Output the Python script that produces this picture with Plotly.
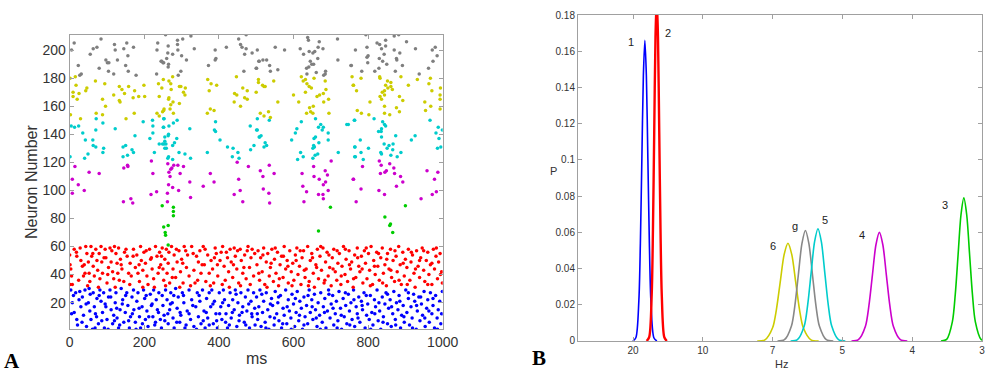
import plotly.graph_objects as go

# ---------------- Panel A data: raster (time ms, neuron number) ----------------
blue_spikes = [
(3,29),(7,20),(12,13),(16,27),(19,8),(25,22),(30,17),(34,24),(37,11),(41,29),(45,3),(50,20),(52,30),(54,14),(57,8),(63,27),(66,17),(68,2),(72,10),(73,23),(77,5),(81,29),(84,21),(88,13),(91,27),(93,2),(97,17),(100,8),(104,24),(108,29),(111,15),(115,5),(118,11),(122,20),(124,27),(127,9),(131,2),(135,15),(138,30),(142,22),(145,6),(149,13),(153,27),(156,18),(160,2),(163,10),(167,24),(171,29),(172,15),(176,6),(180,21),(183,27),(187,10),(190,2),(194,17),(198,29),(201,23),(203,8),(207,14),(210,3),(216,26),(219,18),(223,10),(225,29),(228,4),(232,22),(235,15),(239,27),(243,8),(246,2),(250,18),(253,11),(257,29),(261,22),(264,5),(268,15),(271,27),(275,20),(277,9),(280,2),(284,30),(288,16),(291,24),(295,6),(298,11),(302,27),(306,20),(309,2),(315,14),(320,29),(324,8),(327,22),(333,3),(338,17),(342,27),(345,10),(349,21),(352,5),(356,29),(360,14),(363,2),(367,23),(370,9),(374,27),(378,17),(381,29),(385,5),(388,21),(392,12),(396,2),(401,27),(405,17),(408,8),(412,29),(415,22),(419,12),(423,2),(426,18),(430,27),(433,9),(437,22),(441,15),(444,29),(448,3),(451,20),(455,11),(459,27),(464,17),(468,6),(471,24),(475,14),(478,29),(482,2),(486,21),(489,10),(493,27),(496,16),
(5,12),(10,25),(21,4),(27,28),(33,6),(44,19),(55,26),(61,1),(69,12),(79,25),(86,7),(95,19),(103,1),(110,24),(120,7),(126,16),(134,4),(141,19),(150,25),(158,7),(168,12),(178,1),(186,16),(195,5),(205,25),(212,10),(221,19),(230,6),(238,13),(248,25),(255,7),(263,12),(270,19),(279,25),(287,6),(296,13),(305,25),(312,4),(320,12),(330,18),(340,1),(347,25),(358,7),(366,13),(374,4),(384,19),(394,7),(402,12),(410,20),(418,6),(428,4),(436,13),(446,26),(454,7),(462,13),(472,4),(480,19),(488,12),(497,4),
(501,24),(504,8),(507,17),(510,29),(513,3),(517,13),(520,21),(524,6),(527,27),(531,15),(534,1),(537,10),(541,23),(544,18),(548,4),(551,28),(555,12),(558,20),(561,7),(565,25),(568,2),(572,16),(575,11),(579,29),(582,5),(586,22),(589,14),(593,9),(596,26),(600,19),(603,3),(607,13),(610,28),(614,7),(617,21),(621,16),(624,1),(628,24),(631,10),(635,18),(638,5),(642,29),(645,13),(649,22),(652,8),(656,26),(659,15),(663,3),(666,20),(670,11),(673,27),(677,6),(680,17),(684,23),(687,2),(691,14),(694,29),(698,9),(701,19),(705,25),(708,4),(712,12),(715,21),(719,7),(722,28),(726,16),(729,1),(733,23),(736,10),(740,18),(743,5),(747,26),(750,14),(754,20),(757,8),(761,29),(764,3),(768,17),(771,12),(775,24),(778,6),(782,21),(785,15),(789,27),(792,2),(796,11),(799,19),(803,8),(806,25),(810,13),(813,4),(817,22),(820,17),(824,29),(827,7),(831,14),(834,1),(838,24),(841,10),(845,19),(848,27),(852,5),(855,16),(859,22),(862,3),(866,12),(869,28),(873,8),(876,20),(880,15),(883,25),(887,2),(890,11),(894,18),(897,6),(901,29),(904,13),(908,23),(911,4),(915,17),(918,9),(922,26),(925,21),(929,1),(932,14),(936,24),(939,7),(943,19),(946,11),(950,28),(953,3),(957,16),(960,22),(964,6),(967,27),(971,12),(974,18),(978,2),(981,25),(985,9),(988,15),(992,21),(995,5),(999,28),
(503,12),(515,26),(526,2),(538,19),(549,9),(560,24),(571,5),(583,17),(594,1),(605,23),(616,11),(628,4),(639,25),(650,17),(661,9),(672,1),(683,13),(695,26),(706,16),(717,2),(728,11),(739,27),(751,4),(762,22),(773,9),(784,18),(795,25),(807,1),(818,12),(829,20),(840,6),(852,26),(863,17),(874,4),(885,21),(896,10),(908,27),(919,2),(930,18),(941,24),(952,9),(963,14),(974,23),(986,1),(997,12),
]

red_spikes = [
(0,54),(1,47),(5,39),(1,33),(7,33),(18,56),(19,53),(28,59),(30,50),(34,46),(37,39),(41,41),(43,60),(46,55),(50,49),(52,41),(54,35),(57,60),(59,53),(63,46),(66,39),(70,58),(73,50),(75,43),(79,55),(81,37),(84,60),(86,49),(88,41),(95,58),(97,52),(100,34),(104,45),(108,59),(111,49),(115,42),(118,37),(120,60),(124,55),(127,48),(129,41),(131,59),(133,36),(136,51),(140,44),(145,35),(151,58),(154,53),(158,41),(162,48),(165,39),(171,58),(176,45),(180,54),(183,41),(187,35),(190,60),(192,50),(196,43),(199,56),(203,48),(207,39),(210,33),(214,58),(217,51),(221,44),(225,37),(230,60),(234,53),(237,41),(241,56),(244,47),(248,59),(250,44),(252,36),(255,51),(259,58),(261,41),(264,48),(268,34),(273,60),(277,44),(280,54),(284,38),(288,49),(293,57),(297,42),(300,51),(304,34),(307,60),(313,45),(316,54),(320,39),(327,60),(333,43),(336,34),(340,53),(345,49),(349,57),(352,41),(358,60),(361,47),(365,35),(370,54),(374,41),(379,50),(383,44),(386,34),(390,59),(393,55),(397,39),(403,50),(406,56),(410,60),(414,46),(417,36),(423,52),(426,42),(430,58),(433,49),(437,38),(441,59),(444,53),(448,44),(453,34),(457,58),(460,50),(464,41),(469,54),(473,37),(478,60),(482,45),(486,52),(489,58),(493,39),
(3,44),(12,58),(24,36),(39,47),(48,32),(62,55),(77,31),(92,52),(102,40),(113,57),(122,31),(138,47),(147,56),(161,33),(170,53),(186,47),(196,31),(205,57),(219,52),(227,31),(240,45),(246,53),(257,32),(266,56),(275,38),(286,58),(295,31),(303,48),(311,57),(324,32),(331,55),(343,36),(355,47),(363,58),(377,32),(388,52),(396,47),(409,33),(420,56),(428,31),(439,47),(450,57),(458,32),(467,45),(476,57),(484,33),(496,55),
(502,47),(505,57),(509,36),(512,52),(516,42),(520,59),(523,33),(527,49),(531,55),(535,39),(538,45),(542,58),(546,35),(549,51),(553,41),(557,56),(560,32),(564,47),(568,53),(572,38),(575,60),(579,44),(583,50),(586,34),(590,57),(594,42),(598,48),(601,36),(605,54),(609,59),(612,40),(616,46),(620,33),(623,52),(627,57),(631,38),(634,44),(638,60),(642,35),(645,50),(649,55),(653,41),(656,31),(660,47),(664,58),(667,37),(671,53),(675,43),(679,59),(682,34),(686,49),(690,56),(693,39),(697,45),(701,32),(704,52),(708,58),(712,42),(716,36),(719,48),(723,55),(727,33),(730,46),(734,60),(738,40),(741,51),(745,35),(749,57),(753,44),(756,49),(760,31),(764,54),(767,38),(771,59),(775,46),(778,42),(782,53),(786,34),(790,57),(793,48),(797,37),(801,55),(804,43),(808,60),(812,33),(815,50),(819,40),(823,56),(826,46),(830,36),(834,52),(838,59),(841,41),(845,47),(849,32),(852,55),(856,44),(860,58),(863,38),(867,50),(871,35),(875,53),(878,42),(882,60),(886,47),(889,33),(893,56),(897,39),(900,51),(904,45),(908,58),(912,36),(915,49),(919,54),(923,41),(926,31),(930,57),(934,46),(938,38),(941,52),(945,59),(949,43),(952,35),(956,50),(960,56),(963,40),(967,47),(971,33),(975,58),(978,44),(982,53),(986,37),(989,49),(993,55),(997,42),(999,34),
(507,41),(518,54),(529,31),(540,48),(551,59),(562,37),(573,53),(585,46),(596,32),(607,50),(618,57),(629,43),(640,32),(651,52),(662,45),(673,60),(684,36),(695,54),(706,44),(717,57),(728,39),(739,58),(750,47),(761,37),(772,52),(784,44),(795,59),(806,32),(817,46),(828,55),(839,34),(850,51),(861,43),(872,57),(883,36),(894,48),(905,33),(916,56),(927,44),(938,50),(949,57),(960,33),(971,48),(983,59),(994,40),
]

green_spikes = [
(248,89),(252,74),(256,70),(257,68),(264,75),(264,61),(278,88),(278,85),(278,82),
(667,71),(699,88),(845,81),(858,75),(860,76),(866,70),(900,89),
]

magenta_spikes = [
(14,117),(155,118),(156,117),(52,113),(79,112),(145,116),(219,121),(223,112),(7,108),(23,104),(39,100),(7,98),(164,94),(169,91),(144,92),(218,97),(233,99),
(263,119),(279,118),(290,118),(305,117),(274,116),(271,115),(266,113),(269,110),(296,112),(265,104),(276,102),(292,100),(262,98),(262,92),(322,106),(324,95),(377,112),(387,106),(358,103),(449,120),(479,117),(453,108),(457,100),(441,97),(464,92),
(535,118),(511,114),(548,112),(518,110),(623,112),(654,117),(701,121),(685,114),(691,111),(655,110),(669,108),(686,106),(680,104),(761,108),(519,101),(534,98),(536,91),(625,103),(635,99),(693,100),(667,97),(679,97),(680,94),(628,92),
(830,121),(835,118),(785,117),(858,119),(869,116),(849,114),(845,113),(833,112),(871,112),(887,110),(893,106),(760,108),(781,101),(829,100),(844,97),(876,103),(958,114),(987,113),(978,108),(983,99),(972,97),(942,94),(768,92),
]

cyan_spikes = [
(71,151),(4,146),(13,145),(24,146),(70,143),(89,148),(122,144),(35,141),(42,136),(62,136),(63,132),(70,131),(91,130),(89,127),(49,126),(40,123),(1,124),(175,139),(143,131),(150,132),(167,129),(171,127),(143,124),(155,125),(197,149),(222,150),(223,146),(223,141),(215,137),(227,127),(240,133),(252,151),(252,145),(253,133),(255,130),
(253,151),(288,150),(266,146),(278,148),(251,145),(322,144),(388,143),(391,142),(391,149),(403,136),(265,140),(264,139),(255,138),(287,137),(281,134),(255,135),(249,133),(258,133),(276,132),(259,130),(293,127),(265,124),(263,123),(276,122),(309,126),(324,123),(369,127),(423,131),(438,130),(451,127),(454,123),(436,124),(484,146),(501,143),(508,138),(494,132),(485,129),
(503,151),(535,150),(503,143),(509,138),(513,139),(524,134),(528,132),(521,131),(595,136),(605,141),(609,144),(621,149),(659,151),(673,147),(667,145),(680,145),(677,143),(693,141),(693,136),(659,138),(655,137),(668,134),(654,132),(656,131),(652,130),(619,127),(626,124),(611,122),(665,126),(658,125),(652,123),(720,127),(743,147),(763,150),(764,131),(764,124),
(764,150),(816,151),(839,149),(844,147),(847,146),(836,144),(835,142),(828,142),(836,138),(874,139),(779,136),(843,133),(851,130),(856,132),(867,133),(866,129),(765,131),(801,130),(834,127),(836,126),(781,127),(766,124),(787,122),(861,125),(878,124),(888,127),(916,136),(926,139),(966,150),(988,145),(982,141),(999,143),(990,137),(995,131),(986,130),(747,147),
]

yellow_spikes = [
(1,180),(15,181),(69,178),(94,176),(17,175),(46,173),(43,171),(9,170),(25,169),(9,167),(20,165),(133,174),(140,172),(158,174),(147,169),(174,171),(199,175),(185,167),(201,167),(238,176),(247,173),(118,168),(133,164),(135,163),(88,165),(170,166),(96,160),(240,167),(253,158),(71,155),(88,154),(151,151),(173,155),(2,154),(29,151),(234,155),(240,153),(252,157),
(251,179),(276,181),(266,178),(271,176),(294,174),(298,174),(310,173),(305,170),(309,168),(272,172),(266,166),(265,165),(277,163),(294,162),(271,161),(269,158),(249,156),(278,155),(370,179),(379,176),(394,175),(374,171),(377,158),(387,157),(369,155),(447,181),(464,173),(476,171),(442,169),(448,168),(469,166),(476,165),(441,163),(458,160),(506,179),(506,177),(500,170),
(517,175),(521,174),(524,174),(547,178),(621,181),(626,178),(632,179),(636,176),(642,174),(648,173),(632,170),(655,180),(685,178),(687,172),(680,169),(670,168),(663,167),(694,165),(681,163),(600,168),(614,163),(558,163),(757,181),(761,175),(643,159),(653,160),(646,156),(652,155),(635,155),(695,155),(533,156),(521,153),(511,155),(538,152),
(781,180),(760,175),(769,171),(831,181),(832,180),(852,178),(861,177),(847,175),(853,173),(861,174),(865,172),(844,171),(838,170),(844,168),(832,167),(836,165),(888,181),(908,175),(932,179),(967,180),(963,176),(971,171),(994,173),(993,168),(993,165),(993,158),(884,167),(893,164),(805,163),(844,160),(876,159),(884,156),(858,154),(844,155),(802,154),(771,157),(782,155),(952,163),(954,157),(968,160),
]

gray_spikes = [
(12,205),(5,200),(84,208),(120,204),(153,205),(171,202),(236,205),(63,201),(73,202),(55,197),(122,200),(145,201),(156,196),(97,193),(101,191),(105,191),(128,193),(150,189),(23,189),(234,200),(245,192),(250,191),(79,187),(104,185),(118,183),(157,185),(178,182),(27,182),(31,183),(233,183),
(257,211),(325,210),(289,207),(303,208),(289,204),(264,203),(290,200),(276,197),(300,196),(334,201),(263,198),(260,194),(247,192),(252,191),(265,190),(264,188),(313,193),(298,185),(291,182),(390,200),(392,194),(390,193),(372,189),(420,202),(453,208),(458,204),(462,202),(473,201),(489,198),(503,200),(469,197),(507,192),(467,185),(501,187),(473,211),
(638,209),(640,207),(718,208),(669,206),(666,202),(551,202),(576,200),(618,201),(627,197),(642,199),(652,198),(657,199),(679,201),(665,194),(508,192),(518,193),(528,193),(536,189),(538,185),(558,186),(500,187),(645,192),(649,190),(654,190),(641,188),(635,187),(636,183),(661,184),(686,185),(685,183),(681,182),(719,193),(755,189),
(794,211),(870,210),(882,211),(903,206),(824,205),(831,204),(847,207),(847,203),(797,202),(766,200),(836,201),(870,200),(885,198),(843,197),(800,196),(797,195),(830,194),(839,192),(876,194),(877,193),(850,190),(799,191),(892,189),(754,189),(783,185),(818,185),(829,187),(873,185),(927,201),(972,200),(980,202),(985,196),(974,192),(962,187),(937,183),
]

raster_groups = [
    ("blue", blue_spikes, "#0000FF"),
    ("red", red_spikes, "#FF0000"),
    ("green", green_spikes, "#00CC00"),
    ("magenta", magenta_spikes, "#CC00CC"),
    ("cyan", cyan_spikes, "#00CCCC"),
    ("yellow", yellow_spikes, "#CCCC00"),
    ("gray", gray_spikes, "#7F7F7F"),
]

a_xticks = [0, 200, 400, 600, 800, 1000]
a_yticks = [20, 40, 60, 80, 100, 120, 140, 160, 180, 200]

# ---------------- Panel B data: distributions on frequency-index axis ----------------
b_tick_pos = [1, 2, 3, 4, 5, 6]
b_tick_labels = ["20", "10", "7", "5", "4", "3"]
b_yticks = [0, 0.02, 0.04, 0.06, 0.08, 0.1, 0.12, 0.14, 0.16, 0.18]

curve_blue_x = [0.998, 1.041, 1.084, 1.1055, 1.127, 1.1485, 1.17, 1.1915, 1.213, 1.2345, 1.256, 1.299, 1.342]
curve_blue_y = [0, 0.0018, 0.0225, 0.0539, 0.1007, 0.1465, 0.166, 0.1465, 0.1007, 0.0539, 0.0225, 0.0018, 0]
curve_red_x = [1.196, 1.232, 1.268, 1.286, 1.304, 1.322, 1.34, 1.358, 1.376, 1.394, 1.412, 1.448, 1.484]
curve_red_y = [0, 0.0021, 0.0257, 0.0617, 0.1152, 0.1677, 0.19, 0.1677, 0.1152, 0.0617, 0.0257, 0.0021, 0]
curve_yellow_x = [2.78, 2.89, 3.00, 3.055, 3.11, 3.165, 3.22, 3.275, 3.33, 3.385, 3.44, 3.55, 3.66]
curve_yellow_y = [0, 0.0006, 0.0073, 0.0175, 0.0328, 0.0477, 0.054, 0.0477, 0.0328, 0.0175, 0.0073, 0.0006, 0]
curve_gray_x = [3.07, 3.17, 3.27, 3.32, 3.37, 3.42, 3.47, 3.52, 3.57, 3.62, 3.67, 3.77, 3.87]
curve_gray_y = [0, 0.0007, 0.0083, 0.0198, 0.037, 0.0538, 0.061, 0.0538, 0.037, 0.0198, 0.0083, 0.0007, 0]
curve_cyan_x = [3.258, 3.356, 3.454, 3.503, 3.552, 3.601, 3.65, 3.699, 3.748, 3.797, 3.846, 3.944, 4.042]
curve_cyan_y = [0, 0.0007, 0.0084, 0.0201, 0.0376, 0.0547, 0.062, 0.0547, 0.0376, 0.0201, 0.0084, 0.0007, 0]
curve_magenta_x = [4.13, 4.23, 4.33, 4.38, 4.43, 4.48, 4.53, 4.58, 4.63, 4.68, 4.73, 4.83, 4.93]
curve_magenta_y = [0, 0.0007, 0.0081, 0.0195, 0.0364, 0.053, 0.060, 0.053, 0.0364, 0.0195, 0.0081, 0.0007, 0]
curve_green_x = [5.412, 5.494, 5.576, 5.617, 5.658, 5.699, 5.74, 5.781, 5.822, 5.863, 5.904, 5.986, 6.068]
curve_green_y = [0, 0.0009, 0.0107, 0.0257, 0.0479, 0.0697, 0.079, 0.0697, 0.0479, 0.0257, 0.0107, 0.0009, 0]

curves = [
    ("1", curve_blue_x, curve_blue_y, "#0000FF", 1.6),
    ("2", curve_red_x, curve_red_y, "#FF0000", 2.4),
    ("6", curve_yellow_x, curve_yellow_y, "#CCCC00", 1.6),
    ("g", curve_gray_x, curve_gray_y, "#888888", 1.6),
    ("5", curve_cyan_x, curve_cyan_y, "#00CCCC", 1.6),
    ("4", curve_magenta_x, curve_magenta_y, "#CC00CC", 1.6),
    ("3", curve_green_x, curve_green_y, "#00CC00", 1.6),
]

curve_label_text = ["1", "2", "6", "g", "5", "4", "3"]
curve_label_x = [0.97, 1.50, 3.01, 3.32, 3.75, 4.28, 5.47]
curve_label_y = [0.165, 0.170, 0.0525, 0.0635, 0.067, 0.0585, 0.075]

# ---------------- Figure ----------------
fig = go.Figure()
FONT = "Liberation Sans, Arial, sans-serif"
AXCOL = "#A0A0A0"
TXT = "#333333"

for name, pts, col in raster_groups:
    fig.add_trace(go.Scatter(
        x=[p[0] for p in pts], y=[p[1] for p in pts], mode="markers",
        marker=dict(color=col, size=3.5, line=dict(width=0)),
        name=name, xaxis="x", yaxis="y", showlegend=False, hoverinfo="skip"))

for name, xs, ys, col, w in curves:
    fig.add_trace(go.Scatter(
        x=xs, y=ys, mode="lines", line=dict(color=col, width=w, shape="spline", smoothing=0.8),
        name=name, xaxis="x2", yaxis="y2", showlegend=False, hoverinfo="skip"))

common = dict(showline=True, linecolor=AXCOL, linewidth=1, mirror="ticks",
              ticks="inside", ticklen=4, tickcolor=AXCOL, showgrid=False, zeroline=False,
              automargin=False)

fig.update_layout(
    width=1000, height=375, margin=dict(l=0, r=0, t=0, b=0, autoexpand=False),
    paper_bgcolor="white", plot_bgcolor="white",
    font=dict(family=FONT, color=TXT),
    xaxis=dict(domain=[0.0697, 0.4427], range=[0, 1000], tickvals=a_xticks,
               tickfont=dict(size=14, color=TXT), anchor="y", **common),
    yaxis=dict(domain=[0.1219, 0.9075], range=[1, 211], tickvals=a_yticks,
               tickfont=dict(size=14, color=TXT), anchor="x", **common),
    xaxis2=dict(domain=[0.578, 0.982], range=[0.212, 6], tickvals=b_tick_pos, ticktext=b_tick_labels,
                tickfont=dict(size=10, color=TXT), anchor="y2", **common),
    yaxis2=dict(domain=[0.0907, 0.96], range=[0, 0.18], tickvals=b_yticks,
                tickfont=dict(size=10, color=TXT), anchor="x2", **common),
)


def paper_text(text, px, py, size, color=TXT, family=FONT, angle=0):
    return dict(text=text, x=px / 1000, y=(375 - py) / 375, xref="paper", yref="paper",
                xanchor="center", yanchor="middle", showarrow=False, textangle=angle,
                font=dict(size=size, color=color, family=family))


SERIF = "Liberation Serif, Times New Roman, serif"
ann = [
    paper_text("ms", 256, 358, 16),
    paper_text("Neuron Number", 32, 182, 16, angle=-90),
    paper_text("Hz", 781, 364, 11),
    paper_text("P", 553, 171, 11),
    paper_text("<b>A</b>", 12, 361, 21, color="black", family=SERIF),
    paper_text("<b>B</b>", 539, 358, 21, color="black", family=SERIF),
]
for t, lx, ly in zip(curve_label_text, curve_label_x, curve_label_y):
    ann.append(dict(text=t, x=lx, y=ly, xref="x2", yref="y2", showarrow=False,
                    xanchor="center", yanchor="middle",
                    font=dict(size=11, color="#222222", family=FONT)))
fig.update_layout(annotations=ann)

fig.write_html("out.html", config={"displayModeBar": False},
               post_script="document.body.style.margin='0px';document.body.style.padding='0px';")
